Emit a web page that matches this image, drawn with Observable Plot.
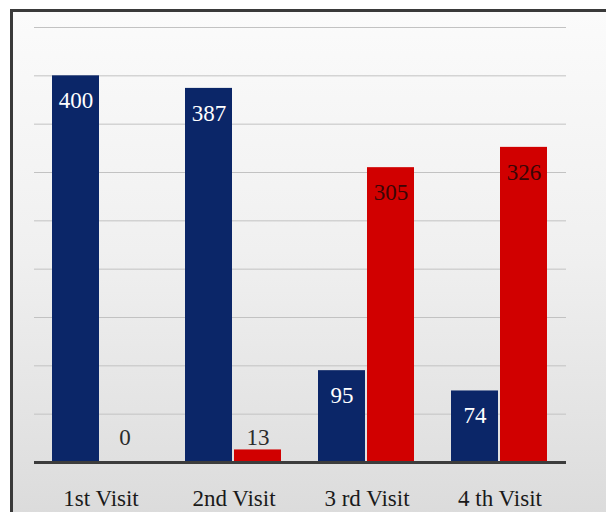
<!DOCTYPE html>
<html>
<head>
<meta charset="utf-8">
<script src="https://cdn.jsdelivr.net/npm/d3@7"></script>
<script src="https://cdn.jsdelivr.net/npm/@observablehq/plot@0.6"></script>
<style>
  html, body { margin: 0; padding: 0; background: #ffffff; overflow: hidden; }
  #wrap { position: relative; width: 606px; height: 512px; overflow: hidden; }
  #frame {
    position: absolute; left: 10px; top: 9px; width: 620px; height: 530px;
    border-left: 3px solid #3a3a3a; border-top: 3px solid #3a3a3a;
    background: linear-gradient(to bottom, #fbfbfb 0%, #f0f0f0 45%, #e2e2e2 80%, #d9d9d9 100%);
  }
  #chart { position: absolute; left: 0; top: 0; }
</style>
</head>
<body>
<div id="wrap"><div id="frame"></div><div id="chart"></div></div>
<script>
const visits = ["1st Visit", "2nd Visit", "3 rd Visit", "4 th Visit"];
const seriesNames = ["Series 1", "Series 2"];
const series1 = [400, 387, 95, 74];
const series2 = [0, 13, 305, 326];
const gridTicks = [50, 100, 150, 200, 250, 300, 350, 400, 450];

const blue = "#0b2668";
const red = "#d10000";

const rows = [];
visits.forEach((v, i) => {
  rows.push({visit: v, series: seriesNames[0], value: series1[i]});
  rows.push({visit: v, series: seriesNames[1], value: series2[i]});
});

// labels sit just inside the bar top; short bars get their label placed above the base
const minLabel = 52;
const labelFill = d => d.value < 30 ? "#2b2b2b" : (d.series === seriesNames[0] ? "#ffffff" : "#3a0606");

const chart = Plot.plot({
  width: 606,
  height: 512,
  marginTop: 27,
  marginBottom: 50,
  marginLeft: 33,
  marginRight: 39,
  style: {background: "transparent", fontFamily: "'Liberation Serif', serif", fontSize: "23px", color: "#1a1a1a", overflow: "visible"},
  fx: {domain: visits, padding: 0, axis: "bottom", tickSize: 0, tickPadding: 27, label: null},
  x: {domain: seriesNames, paddingInner: 0.04, paddingOuter: 0.353, axis: null},
  y: {domain: [0, 450], axis: null},
  color: {domain: seriesNames, range: [blue, red]},
  marks: [
    Plot.ruleY(gridTicks, {stroke: "#c2c2c2", strokeWidth: 1}),
    Plot.barY(rows, {fx: "visit", x: "series", y: "value", fill: "series"}),
    Plot.ruleY([0], {stroke: "#3c3c3c", strokeWidth: 3}),
    Plot.text(rows, {
      fx: "visit", x: "series",
      y: d => Math.max(d.value, minLabel),
      dy: 25,
      text: d => String(d.value),
      fill: labelFill,
      fontSize: 23,
      fontFamily: "'Liberation Serif', serif",
      textAnchor: "middle"
    })
  ]
});
document.getElementById("chart").appendChild(chart);
</script>
</body>
</html>
